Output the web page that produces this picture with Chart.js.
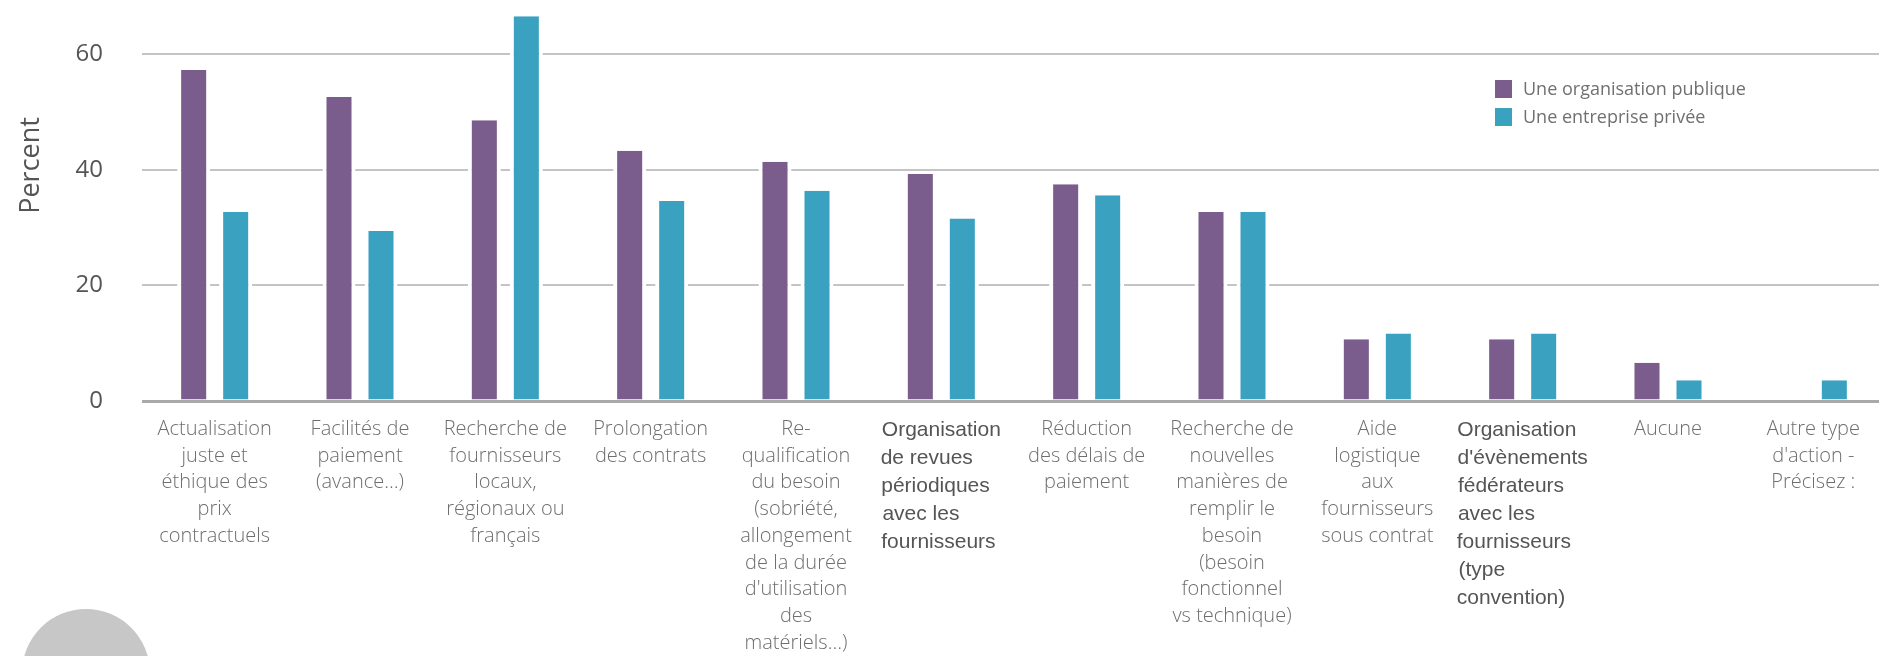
<!DOCTYPE html>
<html>
<head>
    <title>Actions fournisseurs</title>
    <script src="https://cdn.jsdelivr.net/npm/chart.js"></script>
    <style>
        body { margin: 0; background: #fff; overflow: hidden; }
        #wrap { position: relative; width: 1886px; height: 656px; }
        #legend { position: absolute; left: 1495px; top: 74px; font: 18px 'Open Sans', sans-serif; color: #707070; }
        #legend div { height: 28px; line-height: 28px; white-space: nowrap; }
        #legend span { display: inline-block; width: 17px; height: 18px; margin-right: 11px; vertical-align: -3px; }
        #dot { position: absolute; left: 22px; top: 609px; width: 128px; height: 128px; border-radius: 50%; background: #c7c7c7; }
    </style>
</head>
<body>
<div id="wrap">
    <canvas id="chart"></canvas>
    <div id="legend"></div>
    <div id="dot"></div>
</div>
<script>
const categories = [
    ["Actualisation", "juste et", "éthique des", "prix", "contractuels"],
    ["Facilités de", "paiement", "(avance…)"],
    ["Recherche de", "fournisseurs", "locaux,", "régionaux ou", "français"],
    ["Prolongation", "des contrats"],
    ["Re-", "qualification", "du besoin", "(sobriété,", "allongement", "de la durée", "d'utilisation", "des", "matériels…)"],
    ["Organisation", "de revues", "périodiques", "avec les", "fournisseurs"],
    ["Réduction", "des délais de", "paiement"],
    ["Recherche de", "nouvelles", "manières de", "remplir le", "besoin", "(besoin", "fonctionnel", "vs technique)"],
    ["Aide", "logistique", "aux", "fournisseurs", "sous contrat"],
    ["Organisation", "d'évènements", "fédérateurs", "avec les", "fournisseurs", "(type", "convention)"],
    ["Aucune"],
    ["Autre type", "d'action -", "Précisez :"]
];
// labels typed in another font, lines aligned left
const leftAligned = [5, 9];

const seriesNames = ["Une organisation publique", "Une entreprise privée"];
const publique = [57.3, 52.6, 48.6, 43.3, 41.4, 39.3, 37.5, 32.7, 10.7, 10.7, 6.6, 0];
const privee = [32.7, 29.4, 66.6, 34.6, 36.4, 31.6, 35.6, 32.7, 11.7, 11.7, 3.6, 3.6];
const yTicks = [0, 20, 40, 60];
const colors = ['#7a5c8d', '#3aa1c1'];

const plainFont = { family: "'Open Sans', sans-serif", size: 20, weight: '300', lineHeight: 1.335 };
const otherFont = { family: "'Liberation Sans', Arial, sans-serif", size: 21, lineHeight: 1.333 };

// pad short lines with nbsp so centred drawing looks left aligned
const mctx = document.createElement('canvas').getContext('2d');
function padLines(lines) {
    mctx.font = otherFont.size + 'px ' + otherFont.family;
    const w = Math.max(...lines.map(l => mctx.measureText(l).width));
    return lines.map(l => {
        let s = l;
        while (mctx.measureText(s + '\u00a0').width <= w + 3) s += '\u00a0';
        return s;
    });
}

const legend = document.getElementById('legend');
seriesNames.forEach((n, i) => {
    const row = document.createElement('div');
    row.innerHTML = '<span style="background:' + colors[i] + '"></span>' + n;
    legend.appendChild(row);
});

const barStyle = {
    borderColor: '#ffffff',
    borderWidth: { left: 4, right: 4, top: 0, bottom: 0 },
    categoryPercentage: 0.578,
    barPercentage: 0.786
};

new Chart(document.getElementById('chart'), {
    type: 'bar',
    data: {
        labels: categories,
        datasets: [
            Object.assign({ label: seriesNames[0], data: publique, backgroundColor: colors[0] }, barStyle),
            Object.assign({ label: seriesNames[1], data: privee, backgroundColor: colors[1] }, barStyle)
        ]
    },
    options: {
        responsive: true,
        maintainAspectRatio: false,
        animation: false,
        layout: { padding: 0 },
        plugins: { legend: { display: false }, tooltip: { enabled: false } },
        scales: {
            x: {
                grid: { display: false, drawTicks: false },
                border: { display: false },
                ticks: {
                    autoSkip: false,
                    maxRotation: 0,
                    padding: 15,
                    font: ctx => leftAligned.includes(ctx.index) ? otherFont : plainFont,
                    color: ctx => leftAligned.includes(ctx.index) ? '#555555' : '#6e6e6e',
                    callback: (v, i) => leftAligned.includes(i) ? padLines(categories[i]) : categories[i]
                },
                afterFit: s => { s.height = 255; s.paddingLeft = 0; s.paddingRight = 0; }
            },
            y: {
                min: 0,
                max: 69.4,
                ticks: {
                    stepSize: 20,
                    padding: 39,
                    color: '#555555',
                    font: { family: "'Open Sans', sans-serif", size: 24 }
                },
                afterBuildTicks: s => { s.ticks = yTicks.map(v => ({ value: v })); },
                grid: {
                    drawTicks: false,
                    color: ctx => ctx.tick && ctx.tick.value === 0 ? '#a9a9a9' : '#c4c4c4',
                    lineWidth: ctx => ctx.tick && ctx.tick.value === 0 ? 3 : 2
                },
                border: { display: false },
                title: {
                    display: true,
                    text: '\u00a0'.repeat(10) + 'Percent',
                    color: '#555555',
                    font: { family: "'Open Sans', sans-serif", size: 27 },
                    padding: { top: 15, bottom: 0 }
                },
                afterFit: s => { s.width = 142; s.paddingTop = 0; s.paddingBottom = 0; }
            }
        }
    }
});
</script>
</body>
</html>
